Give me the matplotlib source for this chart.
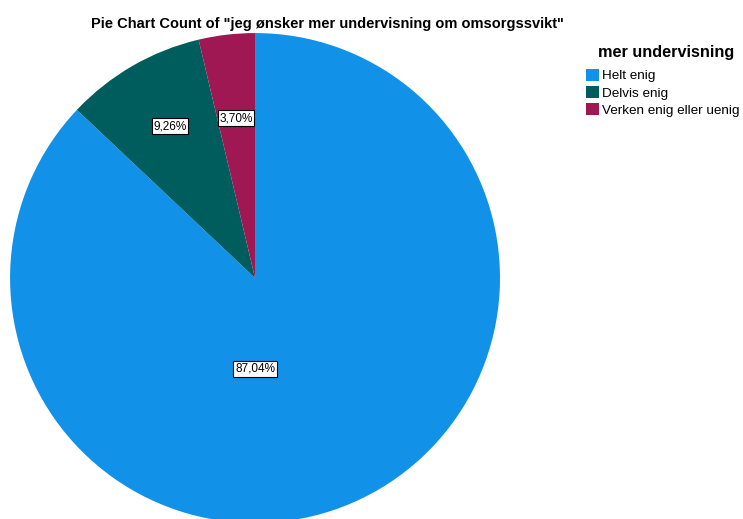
import matplotlib.pyplot as plt
from matplotlib.patches import Patch

categories = ['Helt enig', 'Delvis enig', 'Verken enig eller uenig']
percents = [87.04, 9.26, 3.70]
colors = ['#1192e8', '#005d5d', '#9f1853']
# label anchor positions (x, y) in pie radius units, as SPSS placed them
label_pos = [(0.0, -0.371), (-0.347, 0.620), (-0.078, 0.653)]

plt.rcParams['font.family'] = ['Liberation Sans', 'DejaVu Sans']

fig = plt.figure(figsize=(7.43, 5.19), dpi=100)
ax = fig.add_axes([0.0135, -0.0077, 0.6595, 0.944])

wedges, texts, autotexts = ax.pie(percents, colors=colors, startangle=90, counterclock=False,
                                  autopct=lambda p: f'{p:.2f}%'.replace('.', ','),
                                  radius=1.0, wedgeprops={'linewidth': 0})
for t, pos in zip(autotexts, label_pos):
    t.set_position(pos)
    t.set_fontsize(8.5)
    t.set_color('black')
    t.set_bbox(dict(facecolor='white', edgecolor='black', linewidth=0.8, pad=1.2))
ax.set_xlim(-1, 1)
ax.set_ylim(-1, 1)
ax.set_aspect('equal')
ax.axis('off')

fig.text(0.441, 0.954, 'Pie Chart Count of "jeg ønsker mer undervisning om omsorgssvikt"',
         ha='center', va='center', fontsize=10.5, fontweight='bold')

fig.text(598 / 743, 1 - 52 / 519, 'mer undervisning', ha='left', va='center',
         fontsize=11.7, fontweight='bold')
handles = [Patch(facecolor=c, edgecolor='none') for c in colors]
leg = fig.legend(handles, categories, loc='upper left', bbox_to_anchor=(586 / 743, 1 - 69 / 519),
                 frameon=False, fontsize=9.7,
                 handlelength=0.95, handleheight=0.95, handletextpad=0.25,
                 labelspacing=0.28, borderpad=0, borderaxespad=0)

fig.savefig('out.png', dpi=100)
plt.close()
